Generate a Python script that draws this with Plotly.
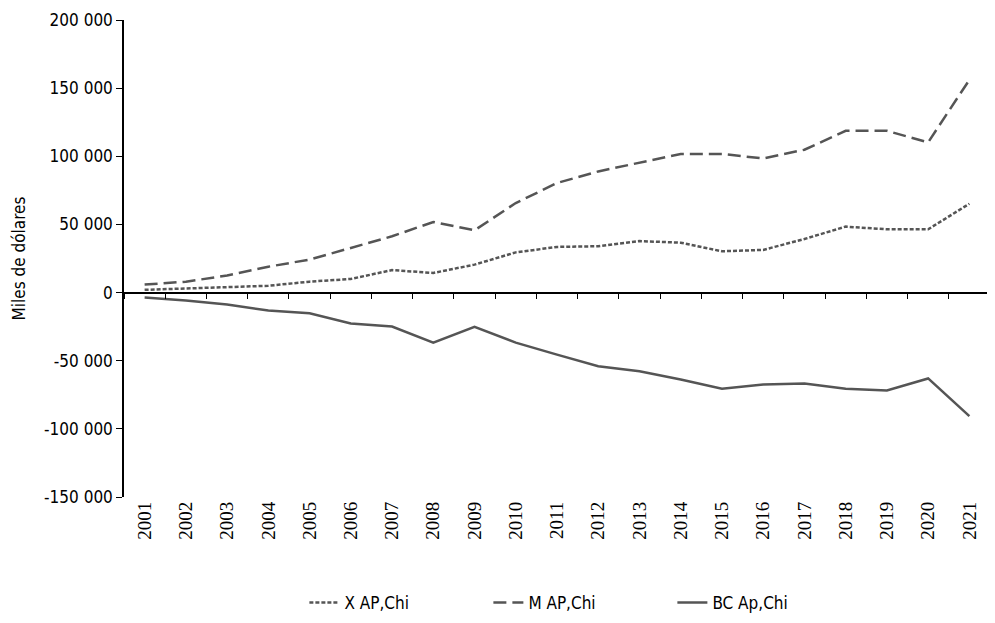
import plotly.graph_objects as go

years = [str(y) for y in range(2001, 2022)]
x_ap_chi = [2000, 3000, 4500, 5000, 8000, 10000, 16500, 14400, 20500, 29500, 33500,
            34000, 37800, 36600, 30300, 31300, 39300, 48400, 46400, 46400, 65200]
m_ap_chi = [5900, 8000, 12500, 19000, 24200, 32500, 41300, 51800, 45700, 65700, 80400,
            88900, 95500, 101700, 101700, 98400, 104800, 118700, 118700, 110200, 156100]
bc_ap_chi = [-3700, -5900, -8800, -13200, -15200, -22700, -24900, -36700, -25200, -36700, -45500,
             -54000, -57700, -63800, -70600, -67400, -66700, -70600, -71800, -63000, -90700]

y_tickvals = [-150000, -100000, -50000, 0, 50000, 100000, 150000, 200000]
y_ticktext = ["-150 000", "-100 000", "-50 000", "0", "50 000", "100 000", "150 000", "200 000"]

series_names = ["X AP,Chi", "M AP,Chi", "BC Ap,Chi"]

COLOR = "#555555"
SANS = "DejaVu Sans Condensed"
SERIF = "Liberation Serif, Times New Roman, serif"

# page body has an 8px default margin, so the figure is drawn 8px right/down
W, H = 987, 615

fig = go.Figure()
fig.add_trace(go.Scatter(x=years, y=x_ap_chi, name=series_names[0], mode="lines",
                         line=dict(color=COLOR, width=2.5, dash="4px,2px")))
fig.add_trace(go.Scatter(x=years, y=m_ap_chi, name=series_names[1], mode="lines",
                         line=dict(color=COLOR, width=2.5, dash="13px,6px")))
fig.add_trace(go.Scatter(x=years, y=bc_ap_chi, name=series_names[2], mode="lines",
                         line=dict(color=COLOR, width=2.5)))
# helper trace for the bottom label axis
fig.add_trace(go.Scatter(x=years, y=[0] * len(years), xaxis="x2", mode="lines",
                         line=dict(width=0, color="rgba(0,0,0,0)"), showlegend=False,
                         hoverinfo="skip"))

fig.update_layout(
    width=W, height=H,
    margin=dict(l=116, r=5, t=12, b=126),
    paper_bgcolor="white", plot_bgcolor="white",
    font=dict(family=SANS, size=17, color="#000000"),
    showlegend=True,
    legend=dict(orientation="h", x=0.527, xanchor="center", xref="paper",
                y=1 - 595 / H, yanchor="middle", yref="container",
                font=dict(family=SANS, size=17, color="#000000"),
                entrywidth=139, entrywidthmode="pixels", bgcolor="rgba(0,0,0,0)"),
    xaxis=dict(type="category", categoryorder="array", categoryarray=years,
               range=[-0.5, len(years) - 0.5],
               anchor="free", position=150000 / 350000, automargin=False,
               showline=True, linecolor="#000000", linewidth=1.5,
               ticks="outside", tickson="boundaries", ticklen=6, tickcolor="#000000", tickwidth=1.2,
               showticklabels=False, showgrid=False, zeroline=False),
    xaxis2=dict(type="category", categoryorder="array", categoryarray=years,
                range=[-0.5, len(years) - 0.5], overlaying="x", anchor="y", side="bottom",
                automargin=False,
                showline=False, ticks="", tickangle=-90, showgrid=False, zeroline=False,
                tickfont=dict(family=SERIF, size=19, color="#000000")),
    yaxis=dict(range=[-150000, 200000], tickvals=y_tickvals, ticktext=y_ticktext,
               automargin=False,
               showline=True, linecolor="#000000", linewidth=1.5,
               ticks="outside", ticklen=6, tickcolor="#000000", tickwidth=1.2,
               showgrid=False, zeroline=False,
               tickfont=dict(family=SANS, size=17, color="#000000"),
               title=dict(text="Miles de dólares", font=dict(family=SANS, size=17, color="#000000"),
                          standoff=14)),
)

fig.write_html("out.html")
